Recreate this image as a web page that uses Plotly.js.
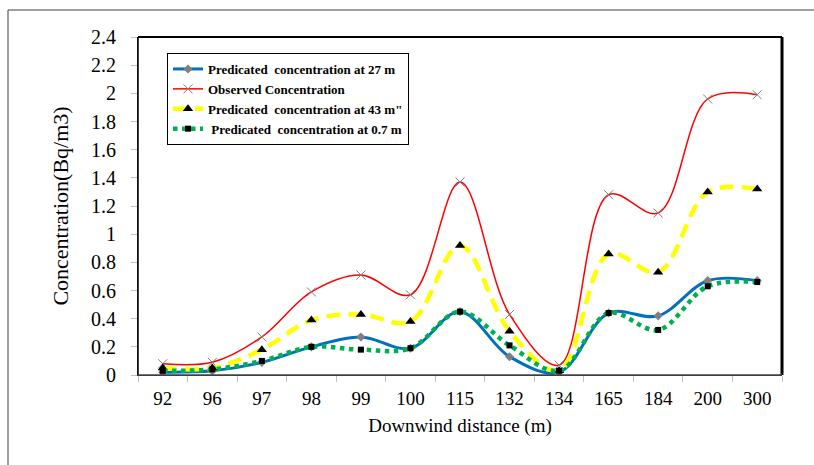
<!DOCTYPE html>
<html>
<head>
<meta charset="utf-8">
<script src="https://cdn.plot.ly/plotly-3.0.1.min.js"></script>
<style>html,body{margin:0;padding:0;background:#fff;}#chart{width:814px;height:465px;}</style>
</head>
<body>
<div id="chart"></div>
<script>
const categories = ["92","96","97","98","99","100","115","132","134","165","184","200","300"];
const pred27 = [0.02,0.03,0.09,0.20,0.27,0.19,0.45,0.13,0.02,0.44,0.42,0.67,0.67];
const observed = [0.08,0.09,0.27,0.59,0.71,0.57,1.37,0.43,0.07,1.28,1.15,1.96,1.99];
const pred43 = [0.05,0.05,0.18,0.39,0.43,0.38,0.92,0.31,0.03,0.86,0.73,1.30,1.32];
const pred07 = [0.03,0.04,0.10,0.20,0.18,0.19,0.45,0.21,0.03,0.44,0.32,0.63,0.66];
const yTicks = [0,0.2,0.4,0.6,0.8,1,1.2,1.4,1.6,1.8,2,2.2,2.4];

const serif = "Liberation Serif, Times New Roman, serif";
const traces = [
  {x: categories, y: pred27, name: "<b>Predicated  concentration at 27 m</b>", type: "scatter", mode: "lines+markers",
   line: {color: "#0070c0", width: 3, shape: "spline", smoothing: 1},
   marker: {symbol: "diamond", size: 7, color: "#7f7f7f"}},
  {x: categories, y: observed, name: "<b>Observed Concentration</b>", type: "scatter", mode: "lines+markers",
   line: {color: "#ff0000", width: 1.5, shape: "spline", smoothing: 1},
   marker: {symbol: "x-thin-open", size: 9, color: "#7f7f7f", line: {color: "#7f7f7f", width: 1}}},
  {x: categories, y: pred43, name: "<b>Predicated  concentration at 43 m\"</b>", type: "scatter", mode: "lines+markers",
   line: {color: "#ffff00", width: 4.5, shape: "spline", smoothing: 1, dash: "14px,8px"},
   marker: {symbol: "triangle-up", size: 9, color: "#000000"}},
  {x: categories, y: pred07, name: "<b> Predicated  concentration at 0.7 m</b>", type: "scatter", mode: "lines+markers",
   line: {color: "#00b050", width: 4.5, shape: "spline", smoothing: 1, dash: "dot"},
   marker: {symbol: "square", size: 6, color: "#000000"}}
];

const px = v => (v - 138) / 644;
const py = v => (375 - v) / 338;

const layout = {
  width: 814, height: 465,
  margin: {l: 138, r: 32, t: 37, b: 90},
  paper_bgcolor: "#ffffff", plot_bgcolor: "#ffffff",
  showlegend: true,
  legend: {x: px(167), y: py(53), xanchor: "left", yanchor: "top",
    bordercolor: "#000000", borderwidth: 1, bgcolor: "#ffffff",
    font: {family: serif, size: 13, color: "#000"}, tracegroupgap: 0, itemwidth: 30},
  xaxis: {type: "category", range: [-0.5, 12.5], tickson: "boundaries",
    showgrid: false, zeroline: false, showline: true, linecolor: "#404040", linewidth: 1,
    ticks: "outside", ticklen: 6, tickcolor: "#bfbfbf", ticklabelstandoff: 6,
    tickfont: {family: serif, size: 19, color: "#000"},
    title: {text: "Downwind distance (m)", font: {family: serif, size: 19, color: "#000"}, standoff: 10}},
  yaxis: {range: [0, 2.4], tickvals: yTicks, ticktext: yTicks.map(String),
    showgrid: false, zeroline: false, showline: true, linecolor: "#404040", linewidth: 1,
    ticks: "outside", ticklen: 6, tickcolor: "#bfbfbf", ticklabelstandoff: 11,
    tickfont: {family: serif, size: 20, color: "#000"},
    title: {text: "Concentration(Bq/m3)", font: {family: serif, size: 22, color: "#000"}, standoff: 16}},
  shapes: [
    {type: "line", xref: "paper", yref: "paper", x0: 0, x1: 1, y0: 1, y1: 1, line: {color: "#000", width: 2}},
    {type: "line", xref: "paper", yref: "paper", x0: 1, x1: 1, y0: 0, y1: 1, line: {color: "#000", width: 3}},
    {type: "line", xref: "paper", yref: "paper", x0: 0, x1: 0, y0: 0, y1: 1, line: {color: "#000", width: 1.5}},
    {type: "line", xref: "paper", yref: "paper", x0: 0, x1: 1, y0: 0, y1: 0, line: {color: "#404040", width: 1.5}},
    {type: "line", xref: "paper", yref: "paper", x0: px(8), x1: px(8), y0: py(470), y1: py(10), line: {color: "#404040", width: 1}},
    {type: "line", xref: "paper", yref: "paper", x0: px(8), x1: px(820), y0: py(10), y1: py(10), line: {color: "#404040", width: 1}}
  ]
};

Plotly.newPlot("chart", traces, layout, {displayModeBar: false, staticPlot: true});
</script>
</body>
</html>
